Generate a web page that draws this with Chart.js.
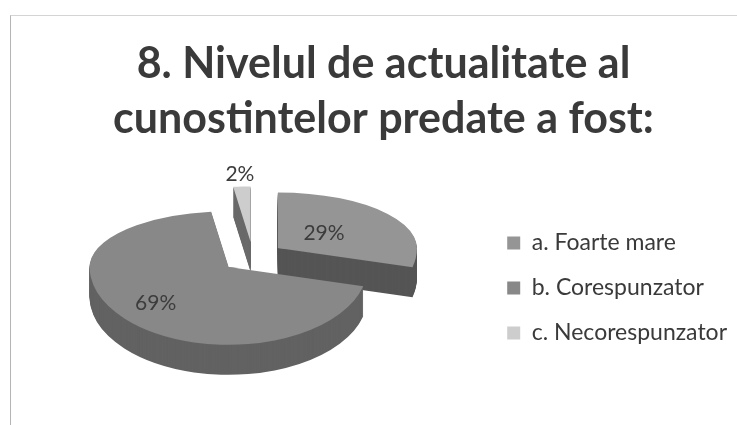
<!DOCTYPE html>
<html>
<head>
<meta charset="utf-8">
<script src="https://cdn.jsdelivr.net/npm/chart.js@4"></script>
<style>
    html, body { margin: 0; padding: 0; background: #fff; overflow: hidden; }
    #page { position: relative; width: 737px; height: 425px; }
    /* scanned slide frame: only left and top edge are visible */
    #frame { position: absolute; left: 10px; top: 15px; right: 0; bottom: 0;
             border-left: 1px solid #b5b5b5; border-top: 1px solid #d4d4d4; }
    #wrap { position: absolute; left: 30px; top: 0; width: 707px; height: 425px; filter: blur(0.4px); }
</style>
</head>
<body>
<div id="page">
    <div id="frame"></div>
    <div id="wrap"><canvas id="chart"></canvas></div>
</div>
<script>
// Data
const titleLines = ["8. Nivelul de actualitate al", "cunostintelor predate a fost:"];
const categories = ["a. Foarte mare", "b. Corespunzator", "c. Necorespunzator"];
const percents   = [29, 69, 2];

// Look
const sliceColors = ["#959595", "#888888", "#cdcdcd"];
const wallColors  = ["#555555", "#626262", "#6a6a6a"];
const labelFactor = [0.42, 0.7, 1.22];
const drawOrder   = [2, 0, 1];     // back to front
const RADIUS  = 139;
const EXPLODE = 32;
const DEPTH   = 30;
const SQUASH_UP = 0.4, SQUASH_DOWN = 0.56, SQUASH_MID = 0.48;
const SHIFT_X = -5, SHIFT_Y = -31;

// Fake 3D pie: every arc is drawn by its element, flattened and pulled out
const pie3d = {
    id: "pie3d",
    beforeDatasetsDraw(chart) {
        const ctx = chart.ctx;
        const arcs = chart.getDatasetMeta(0).data;

        function vertexOf(arc) {
            const mid = (arc.startAngle + arc.endAngle) / 2;
            return {
                mid: mid,
                x: arc.x + SHIFT_X + Math.cos(mid) * EXPLODE,
                y: Math.round(arc.y + SHIFT_Y + Math.sin(mid) * EXPLODE * SQUASH_MID)
            };
        }

        function drawFlat(arc, lift) {
            const v = vertexOf(arc);
            const y = v.y + lift;
            // lower half first, upper half overlaps it by a pixel so no seam shows
            [[SQUASH_DOWN, y, 300], [SQUASH_UP, y - 300, 301]].forEach(([s, top, h]) => {
                ctx.save();
                ctx.beginPath();
                ctx.rect(0, top, chart.width, h);
                ctx.clip();
                ctx.translate(v.x, y);
                ctx.scale(1, s);
                ctx.translate(-arc.x, -arc.y);
                arc.draw(ctx);
                ctx.restore();
            });
        }

        drawOrder.forEach((i) => {
            const arc = arcs[i];
            const topOptions = arc.options;
            arc.options = Object.assign({}, topOptions, { backgroundColor: wallColors[i] });
            for (let d = DEPTH; d > 0; d--) {
                drawFlat(arc, d);
            }
            arc.options = topOptions;
            drawFlat(arc, 0);
        });

        // percent labels
        ctx.save();
        ctx.font = "21px Lato";
        ctx.fillStyle = "#3c3c3c";
        ctx.textAlign = "center";
        ctx.textBaseline = "middle";
        drawOrder.forEach((i) => {
            const v = vertexOf(arcs[i]);
            const r = RADIUS * labelFactor[i];
            const s = Math.sin(v.mid) < 0 ? SQUASH_UP : SQUASH_DOWN;
            ctx.fillText(percents[i] + "%", v.x + Math.cos(v.mid) * r, v.y + Math.sin(v.mid) * r * s);
        });
        ctx.restore();
        return false;
    }
};

new Chart(document.getElementById("chart"), {
    type: "pie",
    data: {
        labels: categories,
        datasets: [{
            data: percents,
            backgroundColor: sliceColors,
            borderWidth: 0,
            radius: RADIUS
        }]
    },
    options: {
        responsive: true,
        maintainAspectRatio: false,
        animation: false,
        layout: { padding: { top: 37, right: 0, bottom: 0, left: 0 } },
        plugins: {
            tooltip: { enabled: false },
            title: {
                display: true,
                text: titleLines,
                color: "#3a3a3a",
                font: { family: "Lato", size: 43, weight: "bold", lineHeight: 1.28 },
                padding: { top: 0, bottom: 4 }
            },
            legend: {
                position: "right",
                fullSize: false,
                labels: {
                    color: "#3a3a3a",
                    font: { family: "Lato", size: 23 },
                    boxWidth: 13,
                    boxHeight: 13,
                    padding: 22
                }
            }
        }
    },
    plugins: [pie3d]
});
</script>
</body>
</html>
